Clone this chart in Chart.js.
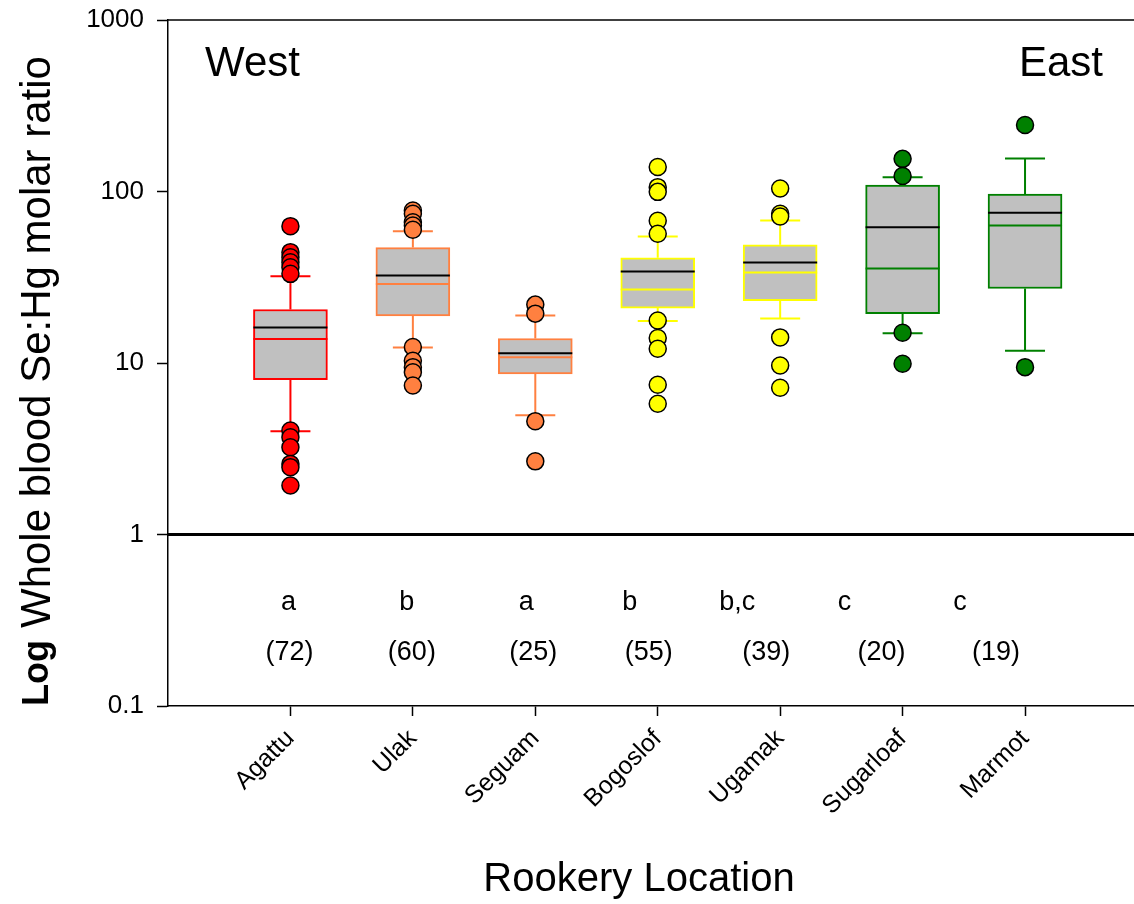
<!DOCTYPE html>
<html>
<head>
<meta charset="utf-8">
<script src="https://cdn.jsdelivr.net/npm/chart.js@4.4.1/dist/chart.umd.min.js"></script>
<style>
  body { margin: 0; background: #fff; }
  canvas { display: block; }
</style>
</head>
<body>
<canvas id="chart" width="1134" height="904"></canvas>
<script>
// data
const locations = ['Agattu', 'Ulak', 'Seguam', 'Bogoslof', 'Ugamak', 'Sugarloaf', 'Marmot'];
const q1 = [8.0, 18.8, 8.65, 20.9, 23.1, 19.4, 27.2];
const q3 = [20.5, 47.1, 13.9, 41.1, 48.9, 109, 96.5];
const medians = [13.8, 28.9, 10.8, 26.8, 33.7, 35.6, 63.4];
const means = [16.1, 32.4, 11.4, 34.2, 38.5, 61.9, 75.1];
const whiskerLow = [4.0, 12.3, 4.96, 17.6, 18.2, 14.9, 11.8];
const whiskerHigh = [32.1, 58.7, 18.9, 54.7, 67.8, 121, 156];
const outliers = [
  [62.8, 44.3, 41.4, 38.7, 36.2, 33.1, 4.04, 3.69, 3.23, 2.58, 2.47, 1.93],
  [77.5, 74.1, 66.2, 63.4, 59.8, 12.4, 10.3, 9.46, 8.84, 7.39],
  [21.9, 19.4, 4.58, 2.67],
  [139, 106, 99.5, 67.5, 56.7, 17.7, 14.0, 12.1, 7.46, 5.78],
  [104, 74.1, 71.5, 14.1, 9.67, 7.17],
  [155, 123, 15.0, 9.89],
  [244, 9.46]
];
const groupLetters = ['a', 'b', 'a', 'b', 'b,c', 'c', 'c'];
const sampleSizes = [72, 60, 25, 55, 39, 20, 19];
const yTicks = [0.1, 1, 10, 100, 1000];
const yTickLabels = ['0.1', '1', '10', '100', '1000'];

const boxColors = ['#ff0000', '#ff8040', '#ff8040', '#ffff00', '#ffff00', '#008000', '#008000'];
const FONT = 'Arial, "Liberation Sans", sans-serif';

// the letters / counts below the boxes are not exactly centred on the ticks
const letterShift = [-2, -6, -9, -28, -43, -58, -65];
const countShift = [-1, -1, -2, -9, -14, -21, -29];

const xPos = locations.map((_, i) => i + 1);

const boxData = locations.map((_, i) => ({ x: xPos[i], y: [q1[i], q3[i]] }));

const outlierSets = outliers.map((vals, i) => ({
  type: 'scatter',
  data: vals.map(v => ({ x: xPos[i], y: v })),
  pointRadius: 8.5,
  pointBackgroundColor: boxColors[i],
  pointBorderColor: '#000',
  pointBorderWidth: 1.5,
  pointHoverRadius: 8.5
}));

const boxPlugin = {
  id: 'boxExtras',
  beforeDatasetsDraw(chart) {
    const { ctx, scales: { x, y } } = chart;
    ctx.save();
    ctx.lineWidth = 2;
    locations.forEach((_, i) => {
      const px = x.getPixelForValue(xPos[i]);
      ctx.strokeStyle = boxColors[i];
      ctx.beginPath();
      ctx.moveTo(px, y.getPixelForValue(q3[i]));
      ctx.lineTo(px, y.getPixelForValue(whiskerHigh[i]));
      ctx.moveTo(px, y.getPixelForValue(q1[i]));
      ctx.lineTo(px, y.getPixelForValue(whiskerLow[i]));
      [whiskerHigh[i], whiskerLow[i]].forEach(v => {
        const py = y.getPixelForValue(v);
        ctx.moveTo(px - 20, py);
        ctx.lineTo(px + 20, py);
      });
      ctx.stroke();
    });
    ctx.restore();
  },
  afterDatasetDraw(chart, args) {
    if (args.index !== 0) return;
    const { ctx, scales: { x, y } } = chart;
    ctx.save();
    ctx.lineWidth = 2;
    locations.forEach((_, i) => {
      const px = x.getPixelForValue(xPos[i]);
      const pm = y.getPixelForValue(medians[i]);
      const pa = y.getPixelForValue(means[i]);
      ctx.strokeStyle = boxColors[i];
      ctx.beginPath();
      ctx.moveTo(px - 37, pm);
      ctx.lineTo(px + 37, pm);
      ctx.stroke();
      ctx.strokeStyle = '#000';
      ctx.beginPath();
      ctx.moveTo(px - 37, pa);
      ctx.lineTo(px + 37, pa);
      ctx.stroke();
    });
    ctx.restore();
  },
  afterDraw(chart) {
    const { ctx, chartArea: a, scales: { x, y } } = chart;
    ctx.save();
    // top frame line
    ctx.strokeStyle = '#000';
    ctx.lineWidth = 1.5;
    ctx.beginPath();
    ctx.moveTo(a.left, a.top);
    ctx.lineTo(a.right, a.top);
    ctx.stroke();
    // reference line at ratio 1
    const p1 = y.getPixelForValue(1);
    ctx.lineWidth = 3;
    ctx.beginPath();
    ctx.moveTo(a.left, p1);
    ctx.lineTo(a.right, p1);
    ctx.stroke();

    ctx.fillStyle = '#000';
    ctx.textBaseline = 'middle';
    ctx.textAlign = 'center';
    ctx.font = '27px ' + FONT;
    locations.forEach((_, i) => {
      const px = x.getPixelForValue(xPos[i]);
      ctx.fillText(groupLetters[i], px + letterShift[i], y.getPixelForValue(0.4));
      ctx.fillText('(' + sampleSizes[i] + ')', px + countShift[i], y.getPixelForValue(0.205));
    });

    ctx.font = '42px ' + FONT;
    ctx.textAlign = 'left';
    ctx.fillText('West', a.left + 37, a.top + 44);
    ctx.textAlign = 'right';
    ctx.fillText('East', a.right - 31, a.top + 44);

    ctx.textAlign = 'center';
    ctx.font = '40px ' + FONT;
    ctx.fillText('Rookery Location', 639, 880);

    // y title: bold "Log" followed by the rest
    ctx.translate(38, 0);
    ctx.rotate(-Math.PI / 2);
    ctx.textAlign = 'left';
    ctx.font = 'bold 36px ' + FONT;
    ctx.fillText('Log', -706, 0);
    ctx.font = '42px ' + FONT;
    ctx.fillText('Whole blood Se:Hg molar ratio', -628, 0);
    ctx.restore();
  }
};

new Chart(document.getElementById('chart'), {
  type: 'bar',
  data: {
    datasets: [{
      type: 'bar',
      data: boxData,
      backgroundColor: '#c0c0c0',
      borderColor: boxColors,
      borderWidth: 2,
      borderSkipped: false,
      barThickness: 74
    }, ...outlierSets]
  },
  options: {
    responsive: false,
    animation: false,
    devicePixelRatio: 1,
    layout: { autoPadding: false, padding: { top: 20, left: 0, right: 0, bottom: 0 } },
    plugins: { legend: { display: false }, tooltip: { enabled: false } },
    scales: {
      x: {
        type: 'linear',
        offset: false,
        min: 0,
        max: 7.89,
        afterBuildTicks: s => { s.ticks = xPos.map(v => ({ value: v })); },
        afterFit: s => { s.height = 198; s.paddingLeft = 0; s.paddingRight = 0; },
        border: { color: '#000', width: 1.5 },
        grid: { offset: false, drawOnChartArea: false, tickLength: 10, tickColor: '#000', tickWidth: 1.5 },
        ticks: {
          autoSkip: false,
          minRotation: 45,
          maxRotation: 45,
          padding: 8,
          color: '#000',
          font: { family: FONT, size: 25 },
          callback: v => locations[v - 1] || ''
        }
      },
      y: {
        type: 'logarithmic',
        min: 0.1,
        max: 1000,
        afterBuildTicks: s => { s.ticks = yTicks.map(v => ({ value: v })); },
        afterFit: s => { s.width = 168; s.paddingTop = 0; s.paddingBottom = 0; },
        border: { color: '#000', width: 1.5 },
        grid: { drawOnChartArea: false, tickLength: 11, tickColor: '#000', tickWidth: 1.5 },
        ticks: {
          padding: 13,
          color: '#000',
          font: { family: FONT, size: 26 },
          callback: v => yTickLabels[yTicks.indexOf(v)] || ''
        }
      }
    }
  },
  plugins: [boxPlugin]
});
</script>
</body>
</html>
